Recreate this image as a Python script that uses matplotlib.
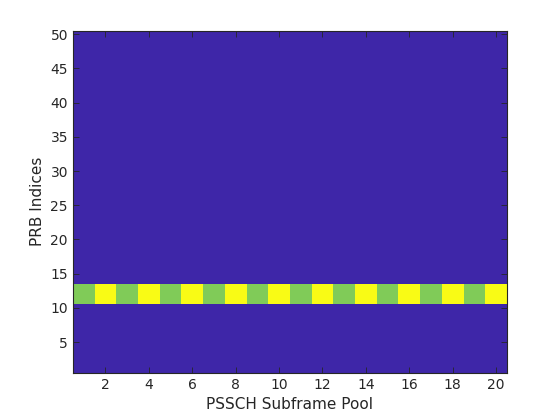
import numpy as np
import matplotlib
matplotlib.use("Agg")
import matplotlib.pyplot as plt
from matplotlib.colors import ListedColormap

# Data
n_subframes = 20
n_prbs = 50
band_prbs = [11, 12, 13]
band_values = [1, 2, 1, 2, 1, 2, 1, 2, 1, 2, 1, 2, 1, 2, 1, 2, 1, 2, 1, 2]
xticks = [2, 4, 6, 8, 10, 12, 14, 16, 18, 20]
yticks = [5, 10, 15, 20, 25, 30, 35, 40, 45, 50]

grid = np.zeros((n_prbs, n_subframes))
for p in band_prbs:
    grid[p - 1, :] = band_values

cmap = ListedColormap(["#3E26A8", "#80CB58", "#F9FB15"])
txt = "#262626"

fig = plt.figure(figsize=(5.6, 4.2), dpi=100)
ax = fig.add_axes([0.130, 0.112, 0.775, 0.815])
ax.imshow(grid, cmap=cmap, vmin=0, vmax=2, origin="lower", aspect="auto",
          interpolation="nearest",
          extent=[0.5, n_subframes + 0.5, 0.5, n_prbs + 0.5])
ax.set_xlim(0.5, n_subframes + 0.5)
ax.set_ylim(0.5, n_prbs + 0.5)
ax.set_xticks(xticks)
ax.set_yticks(yticks)
ax.tick_params(direction="in", top=True, right=True, length=4, width=0.6,
               colors=txt, labelsize=10, labelcolor=txt)
for s in ax.spines.values():
    s.set_color(txt)
    s.set_linewidth(0.8)
ax.set_xlabel("PSSCH Subframe Pool", fontsize=11, color=txt)
ax.set_ylabel("PRB Indices", fontsize=11, color=txt)
fig.savefig("out.png", dpi=100)
